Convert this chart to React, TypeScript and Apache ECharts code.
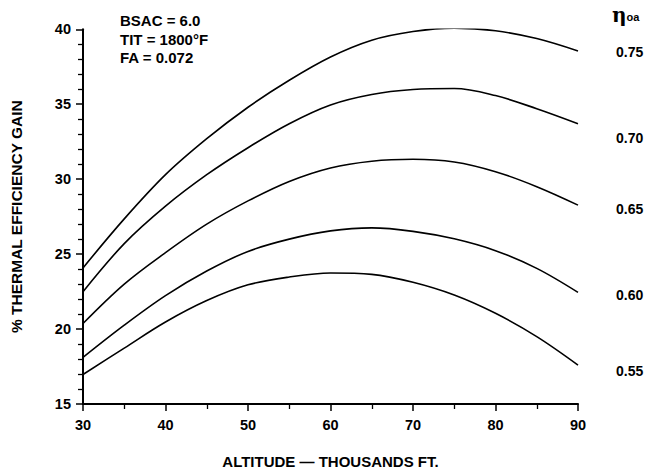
import React, { useEffect, useRef } from "react";
import * as echarts from "echarts";

const altitude = [30, 35, 40, 45, 50, 55, 60, 65, 70, 75, 80, 85, 90];
const eta075 = [24.08, 27.35, 30.3, 32.7, 34.8, 36.6, 38.15, 39.27, 39.85, 40.08, 39.9, 39.38, 38.55];
const eta070 = [22.49, 25.7, 28.2, 30.3, 32.1, 33.7, 34.95, 35.65, 35.98, 36.05, 35.58, 34.7, 33.7];
const eta065 = [20.37, 23.0, 25.1, 27.0, 28.55, 29.85, 30.75, 31.2, 31.33, 31.15, 30.5, 29.5, 28.27];
const eta060 = [18.11, 20.26, 22.23, 23.87, 25.18, 26.0, 26.55, 26.75, 26.52, 26.02, 25.23, 24.05, 22.45];
const eta055 = [16.97, 18.73, 20.47, 21.9, 22.95, 23.47, 23.74, 23.65, 23.12, 22.27, 21.05, 19.5, 17.6];

const seriesNames = ["0.75", "0.70", "0.65", "0.60", "0.55"];
const seriesValues = [eta075, eta070, eta065, eta060, eta055];
const labelOffsetsY = [1, 14, 4, 2.5, 6];

const annotationLines = ["BSAC = 6.0", "TIT = 1800°F", "FA = 0.072"];
const xAxisName = "ALTITUDE — THOUSANDS FT.";
const yAxisName = "% THERMAL EFFICIENCY GAIN";

const FONT = "'Liberation Sans', Arial, Helvetica, sans-serif";

export default function App() {
  const ref = useRef<HTMLDivElement>(null);
  useEffect(() => {
    document.body.style.margin = "0";
    if (!ref.current) return;
    const chart = echarts.init(ref.current, undefined, { renderer: "svg" });
    const axisCommon = {
      axisLine: { show: true, lineStyle: { color: "#000", width: 2 } },
      axisTick: { show: true, inside: false, length: 7, lineStyle: { color: "#000", width: 1.5 } },
      minorTick: { show: true, length: 5, lineStyle: { color: "#000", width: 1.3 } },
      splitLine: { show: false },
      minorSplitLine: { show: false },
      nameTextStyle: { color: "#000", fontWeight: "bold", fontFamily: FONT },
    };
    chart.setOption({
      animation: false,
      backgroundColor: "#fff",
      grid: { left: 79, right: 69, top: 29.3, bottom: 64, containLabel: false },
      xAxis: {
        type: "value",
        min: 30,
        max: 90,
        interval: 10,
        name: xAxisName,
        nameLocation: "middle",
        nameGap: 50,
        ...axisCommon,
        nameTextStyle: { ...axisCommon.nameTextStyle, fontSize: 15 },
        minorTick: { ...axisCommon.minorTick, splitNumber: 2 },
        axisLabel: { color: "#000", fontWeight: "bold", fontSize: 14.5, fontFamily: FONT, margin: 13 },
      },
      yAxis: {
        type: "value",
        min: 15,
        max: 40,
        interval: 5,
        name: yAxisName,
        nameLocation: "middle",
        nameGap: 59,
        ...axisCommon,
        nameTextStyle: { ...axisCommon.nameTextStyle, fontSize: 15.5 },
        minorTick: { ...axisCommon.minorTick, splitNumber: 5 },
        axisLabel: { color: "#000", fontWeight: "bold", fontSize: 14.5, fontFamily: FONT, margin: 12 },
      },
      series: seriesNames.map((name, i) => ({
        name,
        type: "line",
        smooth: 0.35,
        smoothConstraint: false,
        showSymbol: false,
        symbol: "none",
        data: altitude.map((x, j) => [x, seriesValues[i][j]]),
        lineStyle: { color: "#000", width: 1.6 },
        endLabel: {
          show: true,
          formatter: "{a}",
          color: "#000",
          fontWeight: "bold",
          fontSize: 14,
          fontFamily: FONT,
          distance: 38,
          offset: [0, labelOffsetsY[i]],
        },
      })),
      graphic: [
        ...annotationLines.map((t, i) => ({
          type: "text",
          left: 120,
          top: 13 + i * 18.5,
          style: { text: t, fill: "#000", font: `bold 15px ${FONT}` },
        })),
        {
          type: "text",
          left: 612,
          top: 5,
          style: {
            text: "{a|η}{b|oa}",
            rich: {
              a: { fontSize: 20, fontWeight: "bold", fill: "#000", fontFamily: "'DejaVu Serif', serif" },
              b: { fontSize: 11, fontWeight: "bold", fill: "#000", fontFamily: FONT, padding: [4, 0, 0, 0] },
            },
          },
        },
      ],
    });
    return () => chart.dispose();
  }, []);
  return <div ref={ref} style={{ width: 647, height: 474 }} />;
}
